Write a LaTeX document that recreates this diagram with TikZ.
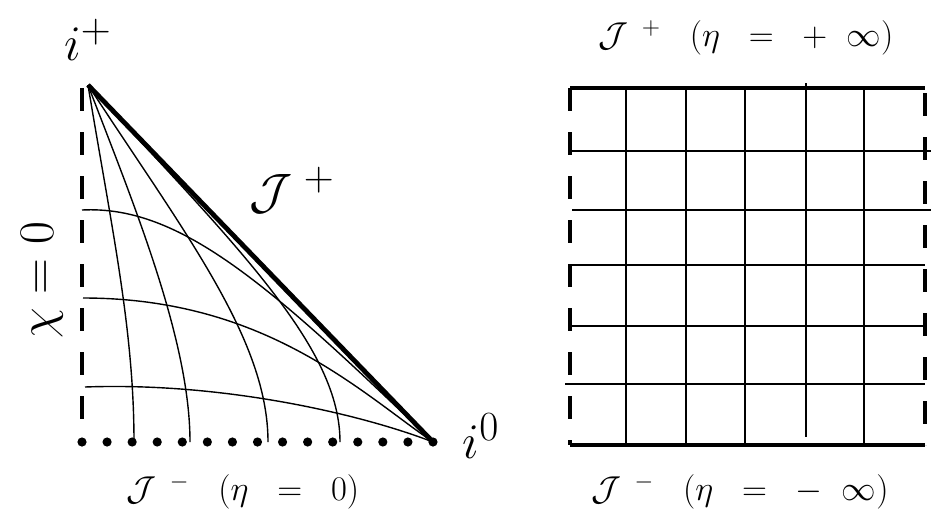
\documentclass[tikz,border=0pt]{standalone}
\begin{document}
\begin{tikzpicture}[x=0.5pt, y=-0.5pt,
  conf/.style={line width=0.7pt},
  scri/.style={line width=2.4pt},
  axisline/.style={line width=2pt, dash pattern=on 11.5pt off 10.5pt},
  big/.style={font=\fontsize{29}{34}\selectfont},
  small/.style={font=\fontsize{18}{21}\selectfont}]
  \useasboundingbox (0,0) rectangle (942,531);

  % left: conformal triangle
  \coordinate (ip) at (88,85);
  \coordinate (io) at (433,442);
  \coordinate (o) at (82,442);
  \coordinate (top) at (82,88);
  \coordinate (r1) at (134,442);
  \coordinate (r2) at (190,442);
  \coordinate (r3) at (268,442);
  \coordinate (r4) at (340,442);
  \coordinate (t1) at (82,210);
  \coordinate (t2) at (83,298);
  \coordinate (t3) at (85,387);

  \draw[axisline] (top) -- (o);
  \draw[line width=4.6pt, line cap=round, dash pattern=on 0pt off 12.535pt] (o) -- (io);
  \draw[scri] (ip) -- (io);

  \draw[conf] (ip) .. controls (112,230) and (134,330) .. (r1);
  \draw[conf] (ip) .. controls (134,205) and (190,340) .. (r2);
  \draw[conf] (ip) .. controls (186,235) and (268,340) .. (r3);
  \draw[conf] (ip) .. controls (246,255) and (340,350) .. (r4);
  \draw[conf] (t1) .. controls (180,205) and (270,285) .. (io);
  \draw[conf] (t2) .. controls (265,298) and (360,392) .. (io);
  \draw[conf] (t3) .. controls (220,382) and (358,413) .. (io);

  \node[big] (iplus) at (88,40) {$i^+$};
  \node[big] (izero) at (481,436) {$i^0$};
  \node[big] (scriplus) at (292,190) {$\mathcal{J}^{\;+}$};
  \node[big, rotate=90] (axis) at (42,280) {$\chi=0$};
  \node[small] (scriminus) at (243,492) {$\mathcal{J}^{\;\;-}\;\;\;(\eta\;\;=\;\;0)$};

  % right: the strip
  \coordinate (sa) at (570,88);
  \coordinate (sb) at (925,88);
  \coordinate (sc) at (925,445);
  \coordinate (sd) at (570,445);

  \draw[conf, line width=0.9pt] (626,88) -- (626,445);
  \draw[conf, line width=0.9pt] (686,88) -- (686,445);
  \draw[conf, line width=0.9pt] (745,88) -- (745,445);
  \draw[conf, line width=0.9pt] (806,83) -- (806,437);
  \draw[conf, line width=0.9pt] (864,88) -- (864,445);
  \draw[conf, line width=0.9pt] (570,151) -- (931,151);
  \draw[conf, line width=0.9pt] (572,210) -- (931,210);
  \draw[conf, line width=0.9pt] (570,265) -- (925,265);
  \draw[conf, line width=0.9pt] (570,326) -- (925,326);
  \draw[conf, line width=0.9pt] (565,384) -- (925,384);

  \draw[scri, line width=2pt] (sa) -- (sb);
  \draw[scri, line width=2pt] (sd) -- (sc);
  \draw[axisline] (sa) -- (sd);
  \draw[axisline] ([yshift=-2.5pt]sb) -- (sc);

  \node[small] (plusinf) at (746,38) {$\mathcal{J}^{\;\;+}\;\;\;(\eta\;\;=\;\;+\;\;\infty)$};
  \node[small] (minusinf) at (740,492) {$\mathcal{J}^{\;\;-}\;\;\;(\eta\;\;=\;\;-\;\;\infty)$};
\end{tikzpicture}
\end{document}
